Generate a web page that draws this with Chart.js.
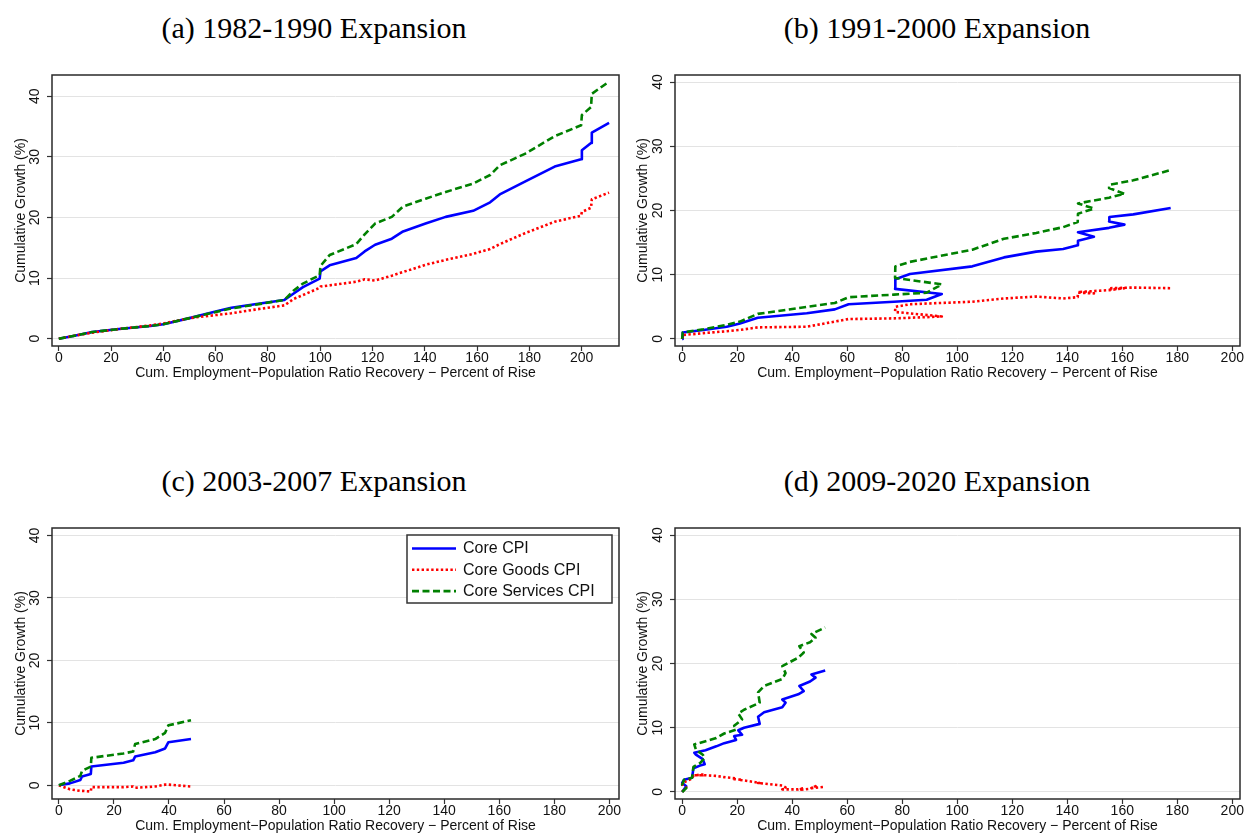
<!DOCTYPE html>
<html>
<head>
<meta charset="utf-8">
<script src="https://cdn.jsdelivr.net/npm/chart.js@4.4.1/dist/chart.umd.min.js"></script>
<style>
  html, body { margin: 0; padding: 0; background: #fff; }
  #page { position: relative; width: 1244px; height: 836px; overflow: hidden; background: #fff; }
  .ttl { position: absolute; width: 622px; text-align: center; color: #000;
         font-family: 'Liberation Serif', 'Times New Roman', serif; font-size: 30px; line-height: 36px; }
  .pan { position: absolute; height: 343px; }
  .pan canvas { display: block; }
</style>
</head>
<body>
<div id="page">
  <div class="ttl" style="left:3px;top:10px">(a) 1982-1990 Expansion</div>
  <div class="ttl" style="left:626px;top:10px">(b) 1991-2000 Expansion</div>
  <div class="ttl" style="left:3px;top:463px">(c) 2003-2007 Expansion</div>
  <div class="ttl" style="left:626px;top:463px">(d) 2009-2020 Expansion</div>
  <div class="pan" style="left:622px;top:40px;width:622px"><canvas id="pb" width="622" height="343"></canvas></div>
  <div class="pan" style="left:622px;top:493px;width:622px"><canvas id="pd" width="622" height="343"></canvas></div>
  <div class="pan" style="left:0;top:40px;width:640px"><canvas id="pa" width="640" height="343"></canvas></div>
  <div class="pan" style="left:0;top:493px;width:640px"><canvas id="pc" width="640" height="343"></canvas></div>
</div>
<script>
// ---- axis ticks and series names ----
const xTicks = [0, 20, 40, 60, 80, 100, 120, 140, 160, 180, 200];
const yTicks = [0, 10, 20, 30, 40];
const seriesNames = ['Core CPI', 'Core Goods CPI', 'Core Services CPI'];
const xTitle = 'Cum. Employment\u2212Population Ratio Recovery \u2212 Percent of Rise';
const yTitle = 'Cumulative Growth (%)';

// ---- (a) 1982-1990: cumulative recovery (% of rise) and cumulative growth (%) ----
const aRecovery = [0, 6, 12.8, 23, 35, 40, 50, 60, 66, 75, 86.3, 90, 93.4, 99.8, 100.1, 103.6, 113.8, 117, 121, 127.4,
                   131.7, 140.3, 148, 158.5, 165, 168.7, 178.3, 189.7, 199.8, 200.1, 203.6, 203.9, 210.5];
const aCore     = [0, 0.5, 1.1, 1.6, 2.1, 2.4, 3.4, 4.5, 5.1, 5.7, 6.4, 7.5, 8.5, 9.9, 11.1, 12.1, 13.3, 14.4, 15.5, 16.5,
                   17.7, 19.0, 20.1, 21.1, 22.5, 23.8, 25.9, 28.4, 29.6, 31.1, 32.3, 34.0, 35.6];
const aGoods    = [0, 0.5, 1.0, 1.6, 2.2, 2.5, 3.4, 3.9, 4.2, 4.8, 5.5, 6.6, 7.2, 8.4, 8.6, 8.8, 9.4, 9.8, 9.6, 10.4,
                   11.0, 12.2, 13.0, 14.0, 14.8, 15.6, 17.4, 19.3, 20.3, 20.9, 21.6, 23.0, 24.1];
const aServices = [0, 0.5, 1.1, 1.6, 2.1, 2.4, 3.4, 4.4, 5.0, 5.6, 6.4, 8.0, 9.1, 10.5, 12.0, 13.8, 15.6, 17.2, 19.0, 20.1,
                   21.8, 23.1, 24.2, 25.6, 27.0, 28.6, 30.5, 33.4, 35.2, 36.9, 38.2, 40.4, 42.4];

// ---- (b) 1991-2000 ----
const bRecovery = [0, 0.2, 7.7, 16.2, 21, 27.5, 45.3, 55.5, 60.5, 77, 88.9, 94.4, 77.4, 77.5, 82.8, 105.5, 117, 128.7, 138.5, 143.8,
                   143.9, 149.7, 143.9, 155.2, 160.8, 155.2, 155.3, 164, 177.6];
const bCore     = [0, 1.0, 1.4, 1.9, 2.4, 3.3, 4.0, 4.6, 5.4, 5.8, 6.1, 7.0, 7.8, 9.3, 10.1, 11.3, 12.7, 13.6, 14.0, 14.6,
                   15.3, 15.9, 16.6, 17.3, 17.8, 18.3, 19.0, 19.4, 20.4];
const bGoods    = [0, 0.6, 0.9, 1.2, 1.4, 1.8, 1.9, 2.7, 3.1, 3.2, 3.4, 3.5, 4.2, 5.0, 5.4, 5.8, 6.3, 6.6, 6.3, 6.5,
                   7.2, 7.1, 7.3, 7.6, 7.9, 7.7, 7.9, 8.0, 7.9];
const bServices = [0, 1.0, 1.5, 2.2, 2.7, 3.9, 5.0, 5.6, 6.5, 6.9, 7.2, 8.5, 9.5, 11.3, 12.0, 13.9, 15.6, 16.5, 17.4, 18.2,
                   19.5, 20.3, 21.1, 22.0, 22.6, 23.5, 24.0, 24.7, 26.3];

// ---- (c) 2003-2007 ----
const cRecovery = [0, 4, 7.8, 8.4, 11.6, 11.8, 23.5, 27, 27.7, 35, 38.6, 39.8, 48];
const cCore     = [0, 0.3, 0.85, 1.4, 1.8, 3.0, 3.6, 4.0, 4.6, 5.3, 5.9, 6.9, 7.4];
const cGoods    = [0, -0.65, -0.9, -0.9, -1.0, -0.3, -0.3, -0.2, -0.4, -0.2, 0.1, 0.1, -0.2];
const cServices = [0, 0.7, 1.5, 2.3, 3.0, 4.4, 5.1, 5.4, 6.6, 7.4, 8.4, 9.6, 10.4];

// ---- (d) 2009-2020 ----
const dRecovery = [0, 1.5, 0, 0.7, 3.6, 4.1, 6.5, 8.2, 7.5, 5.0, 4.4, 8.5, 12.4, 15.3, 19.6, 18.9, 21.8, 20.4, 22.5, 28.2,
                   27.6, 29.8, 36.4, 37.6, 36.4, 42.2, 44.2, 42.6, 46.5, 48.5, 47.0, 52.0];
const dCore     = [0, 0.9, 1.4, 1.9, 2.2, 3.7, 4.1, 4.3, 5.1, 5.8, 6.1, 6.5, 7.1, 7.6, 8.1, 8.7, 8.9, 9.6, 10.0, 10.6,
                   11.7, 12.4, 13.2, 13.9, 14.4, 15.2, 15.7, 16.5, 17.2, 17.8, 18.3, 18.9];
const dGoods    = [0, 0.7, 1.2, 1.5, 2.1, 2.5, 2.7, 2.7, 2.6, 2.6, 2.6, 2.6, 2.5, 2.3, 2.1, 2.0, 1.9, 1.9, 1.8, 1.4,
                   1.4, 1.3, 1.0, 0.7, 0.4, 0.4, 0.6, 0.3, 0.5, 0.9, 0.6, 0.8];
const dServices = [0, 0.6, 1.1, 1.9, 2.2, 3.9, 4.5, 5.3, 5.8, 6.6, 7.4, 7.9, 8.4, 9.1, 9.7, 10.3, 11.3, 12.2, 12.8, 13.9,
                   15.5, 16.5, 17.6, 18.5, 19.6, 20.9, 21.7, 22.7, 23.3, 24.0, 24.6, 25.6];

// ---- drawing ----
const FONT = "'Liberation Sans', Arial, Helvetica, sans-serif";
const INK = '#111111';
const lineStyles = [
  { borderColor: '#0000ff', borderWidth: 2.6, borderDash: [],         order: 3 },
  { borderColor: '#ff0000', borderWidth: 2.6, borderDash: [2.4, 2.4], order: 2 },
  { borderColor: '#008000', borderWidth: 2.6, borderDash: [7, 3.5],   order: 1 }
];

function toPoints(xs, ys) { return xs.map((x, i) => ({ x: x, y: ys[i] })); }

// dark frame round the plot region
const framePlugin = {
  id: 'frame',
  afterDatasetsDraw(chart) {
    const { ctx, chartArea: a } = chart;
    ctx.save();
    ctx.strokeStyle = '#2a2a2a';
    ctx.lineWidth = 1.5;
    ctx.strokeRect(a.left, a.top, a.right - a.left, a.bottom - a.top);
    ctx.restore();
  }
};

// boxed key listing the three series
const keyPlugin = {
  id: 'key',
  afterDraw(chart, args, o) {
    if (!o || !o.show) return;
    const ctx = chart.ctx;
    ctx.save();
    ctx.fillStyle = '#ffffff';
    ctx.fillRect(o.left, o.top, o.width, o.height);
    ctx.strokeStyle = '#333333';
    ctx.lineWidth = 1.5;
    ctx.strokeRect(o.left, o.top, o.width, o.height);
    chart.data.datasets.forEach((ds, i) => {
      const y = o.top + o.firstRow + i * o.rowGap;
      ctx.beginPath();
      ctx.setLineDash(ds.borderDash || []);
      ctx.lineCap = 'butt';
      ctx.strokeStyle = ds.borderColor;
      ctx.lineWidth = ds.borderWidth;
      ctx.moveTo(o.left + o.sampleStart, y);
      ctx.lineTo(o.left + o.sampleEnd, y);
      ctx.stroke();
      ctx.setLineDash([]);
      ctx.fillStyle = INK;
      ctx.font = '16px ' + FONT;
      ctx.textAlign = 'left';
      ctx.textBaseline = 'middle';
      ctx.fillText(ds.label, o.left + o.textStart, y + 0.5);
    });
    ctx.restore();
  }
};

function makePanel(id, xs, core, goods, services, xRange, yRange, box, key) {
  const series = [core, goods, services];
  return new Chart(document.getElementById(id), {
    type: 'line',
    data: {
      datasets: series.map((ys, i) => Object.assign({
        label: seriesNames[i],
        data: toPoints(xs, ys),
        fill: false,
        pointRadius: 0,
        tension: 0,
        borderJoinStyle: 'round',
        borderCapStyle: 'butt'
      }, lineStyles[i]))
    },
    options: {
      responsive: false,
      animation: false,
      events: [],
      layout: { padding: { left: 0, right: box.padRight, top: 35, bottom: 0 } },
      plugins: {
        legend: { display: false },
        tooltip: { enabled: false },
        key: key || { show: false }
      },
      scales: {
        x: {
          type: 'linear',
          min: xRange[0], max: xRange[1],
          afterBuildTicks: s => { s.ticks = xTicks.map(v => ({ value: v })); },
          afterFit: s => { s.height = 37; s.paddingLeft = 0; s.paddingRight = 0; },
          border: { display: false },
          grid: { drawOnChartArea: false, drawTicks: true, tickLength: 5, tickColor: '#333', tickWidth: 1.2 },
          ticks: { autoSkip: false, minRotation: 0, maxRotation: 0, padding: -1, color: INK,
                   font: { family: FONT, size: 14 } },
          title: { display: true, text: xTitle, color: INK, font: { family: FONT, size: 14 },
                   padding: { top: 0, bottom: 1.6 } }
        },
        y: {
          type: 'linear',
          min: yRange[0], max: yRange[1],
          afterBuildTicks: s => { s.ticks = yTicks.map(v => ({ value: v })); },
          afterFit: s => { s.width = box.left; s.paddingTop = 0; s.paddingBottom = 0; },
          border: { display: false },
          grid: { color: '#e3e3e3', lineWidth: 1, drawTicks: true, tickLength: 5, tickColor: '#333', tickWidth: 1.2 },
          ticks: { autoSkip: false, minRotation: 90, maxRotation: 90, crossAlign: 'center', padding: 4,
                   color: INK, font: { family: FONT, size: 14 } },
          title: { display: true, text: yTitle, color: INK, font: { family: FONT, size: 14 },
                   padding: { top: 12.6, bottom: 0 } }
        }
      }
    },
    plugins: [framePlugin, keyPlugin]
  });
}

makePanel('pa', aRecovery, aCore, aGoods, aServices, [-2.6, 214.3], [-1.2, 43.5], { left: 52, padRight: 21 });
makePanel('pb', bRecovery, bCore, bGoods, bServices, [-2.6, 202.8], [-1.1, 41.1], { left: 53, padRight: 4 });
makePanel('pc', cRecovery, cCore, cGoods, cServices, [-2.5, 203.5], [-2.2, 41.2], { left: 52, padRight: 21 },
          { show: true, left: 407, top: 42, width: 205, height: 68, firstRow: 13.5, rowGap: 21.3,
            sampleStart: 5, sampleEnd: 49, textStart: 56 });
makePanel('pd', dRecovery, dCore, dGoods, dServices, [-2.6, 202.8], [-1.1, 41.1], { left: 53, padRight: 4 });
</script>
</body>
</html>
